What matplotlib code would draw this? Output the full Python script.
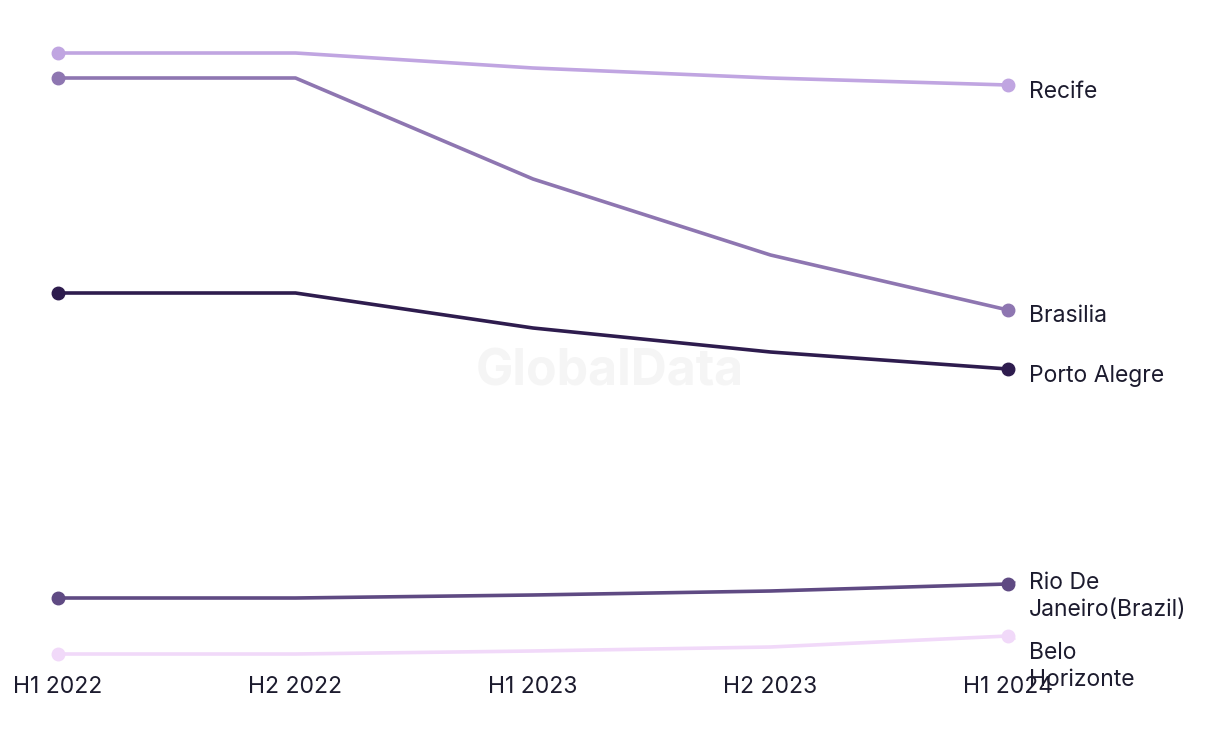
import matplotlib
matplotlib.use("Agg")
import matplotlib.pyplot as plt

periods = ["H1 2022", "H2 2022", "H1 2023", "H2 2023", "H1 2024"]
cities = ["Recife", "Brasilia", "Porto Alegre", "Rio De\nJaneiro(Brazil)", "Belo\nHorizonte"]
recife = [647, 647, 632, 622, 615]
brasilia = [622, 622, 521, 445, 390]
porto_alegre = [407, 407, 372, 348, 331]
rio = [102, 102, 105, 109, 116]
belo = [46, 46, 49, 53, 64]
series = [recife, brasilia, porto_alegre, rio, belo]
colors = ["#c0a5e1", "#8e76b1", "#2e1c4e", "#5f4a83", "#f1d9f9"]
# vertical nudge of the end labels, in points
label_dy = [-5, -4, -5, -9, -22]

plt.rcParams["font.family"] = ["Inter", "DejaVu Sans"]

fig = plt.figure(figsize=(12.2, 7.44), dpi=100)
ax = fig.add_axes([58 / 1220, 79 / 744, 950 / 1220, 621 / 744])
x = range(len(periods))
for vals, c in zip(series, colors):
    ax.plot(x, vals, color=c, lw=2.6, solid_capstyle="round", clip_on=False)
    ax.plot([0, len(periods) - 1], [vals[0], vals[-1]], "o", color=c, ms=9,
            clip_on=False)

for name, vals, c, dy in zip(cities, series, colors, label_dy):
    ax.annotate(name, (len(periods) - 1, vals[-1]), xytext=(15, dy),
                textcoords="offset points", va="center", ha="left",
                fontsize=16.5, color="#1c1b2e", linespacing=1.25)
    if name.startswith("Rio") or name.startswith("Belo"):
        ax.annotate("", (len(periods) - 1, vals[-1]),
                    xytext=(7, 2 if name.startswith("Rio") else -3),
                    textcoords="offset points",
                    arrowprops=dict(arrowstyle="-", color=c, lw=1))

ax.set_xlim(0, len(periods) - 1)
ax.set_ylim(35, 656)
ax.set_xticks(list(x))
ax.set_xticklabels(periods, fontsize=16.5, color="#1c1b2e")
ax.tick_params(axis="x", length=0, pad=8)
ax.set_yticks([])
for s in ax.spines.values():
    s.set_visible(False)

fig.text(610 / 1220, 1 - 372 / 744, "GlobalData", fontsize=36, fontweight="bold",
         color="#f5f5f5", ha="center", va="center", zorder=0)

fig.savefig("out.png", dpi=100)
